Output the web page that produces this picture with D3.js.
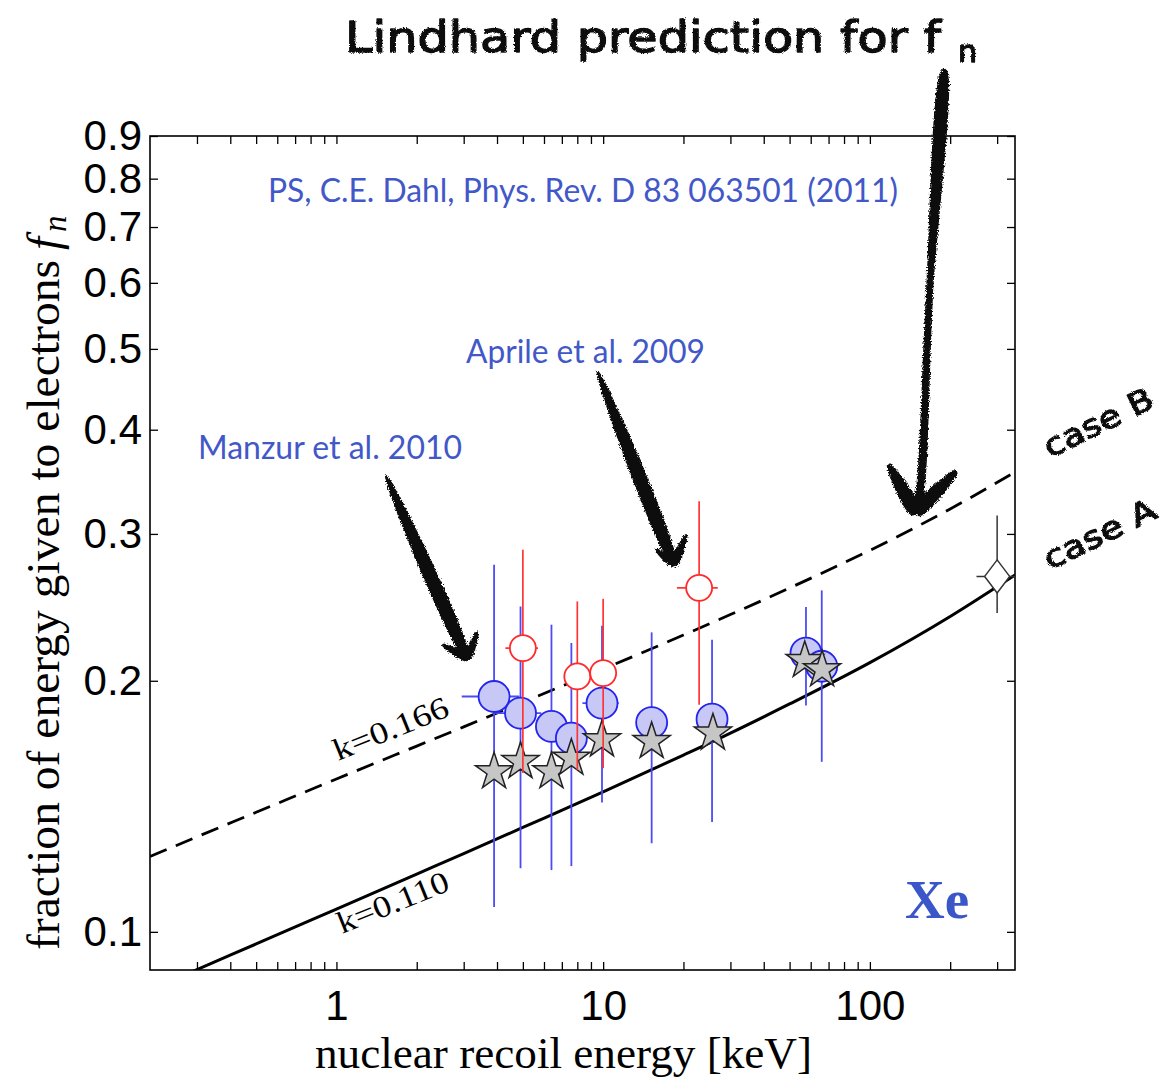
<!DOCTYPE html>
<html>
<head>
<meta charset="utf-8">
<script src="https://cdn.jsdelivr.net/npm/d3@7"></script>
<style>
  html, body { margin: 0; padding: 0; background: #ffffff; }
  svg { display: block; }
</style>
</head>
<body>
<svg id="chart" width="1162" height="1078"></svg>
<script>
// Lindhard model curves for xenon, sampled at these recoil energies (keV)
const energyGrid   = [0.2, 0.3, 0.5, 1, 2, 3, 5, 10, 20, 30, 50, 100, 200, 350];
const lindhardK110 = [0.0851, 0.0901, 0.0967, 0.1065, 0.1173, 0.1241, 0.1334, 0.1472, 0.1629, 0.1731, 0.1876, 0.2103, 0.2389, 0.2679];
const lindhardK166 = [0.1231, 0.1300, 0.1391, 0.1525, 0.1670, 0.1761, 0.1885, 0.2066, 0.2269, 0.2401, 0.2584, 0.2867, 0.3214, 0.3558];

// Manzur et al. 2010
const manzurEnergy    = [3.9, 4.9, 6.4, 7.6, 9.9, 15.2, 25.6, 57.6, 66.0];
const manzurFraction  = [0.1915, 0.1829, 0.1763, 0.1707, 0.1880, 0.1782, 0.1799, 0.2159, 0.2082];
const manzurLow       = [0.1071, 0.1192, 0.1186, 0.1199, 0.1429, 0.1277, 0.1354, 0.1868, 0.1599];
const manzurHigh      = [0.2756, 0.2455, 0.2335, 0.2220, 0.2328, 0.2286, 0.2240, 0.2452, 0.2567];
const manzurEnergyErr = [0.95, 0.96, 0, 0, 1.54, 0, 0, 0, 0];

// Aprile et al. 2009
const aprileEnergy    = [5.0, 8.0, 10.0, 22.9];
const aprileFraction  = [0.2189, 0.2024, 0.2043, 0.2585];
const aprileLow       = [0.1550, 0.1564, 0.1571, 0.1872];
const aprileHigh      = [0.2872, 0.2490, 0.2508, 0.3283];
const aprileEnergyErr = [0.7, 0, 0, 4.0];

// Sorensen & Dahl 2011 values
const dahlEnergy   = [3.9, 4.9, 6.4, 7.6, 9.9, 15.2, 25.8, 57.0, 66.2];
const dahlFraction = [0.1556, 0.1600, 0.1556, 0.1615, 0.1699, 0.1691, 0.1731, 0.2115, 0.2062];

// high-energy point
const highEnergy     = [300];
const highFraction   = [0.2668];
const highLow        = [0.2412];
const highHigh       = [0.3156];
const highEnergyLow  = [251];
const highEnergyHigh = [360];

// axes
const xTickValues   = [0.3, 0.4, 0.5, 0.6, 0.7, 0.8, 0.9, 1, 2, 3, 4, 5, 6, 7, 8, 9, 10, 20, 30, 40, 50, 60, 70, 80, 90, 100, 200, 300];
const xLabeledTicks = [1, 10, 100];
const yTickValues   = [0.1, 0.2, 0.3, 0.4, 0.5, 0.6, 0.7, 0.8, 0.9];

// hand-drawn arrows, in (keV, fraction) coordinates
const lindhardArrowShaft = [[190, 1.08], [167, 0.573], [155, 0.342], [148.7, 0.318]];
const lindhardArrowWings = [[117.4, 0.3635], [211, 0.3567]];
const manzurArrowShaft   = [[1.53, 0.3526], [3.10, 0.2126]];
const manzurArrowWings   = [[2.50, 0.2210], [3.38, 0.2290]];
const aprileArrowShaft   = [[9.52, 0.470], [18.5, 0.2756]];
const aprileArrowWings   = [[15.8, 0.2873], [20.5, 0.2995]];

// ---------------------------------------------------------------
const frame = { left: 150, right: 1015, top: 136, bottom: 970 };
const x = d3.scaleLog().domain([0.2, 350]).range([frame.left, frame.right]);
const y = d3.scaleLog().domain([0.09, 0.9]).range([frame.bottom, frame.top]);
const P = d => [x(d[0]), y(d[1])];

const sansFont  = "'Liberation Sans', Arial, Helvetica, sans-serif";
const serifFont = "'Liberation Serif', 'Times New Roman', serif";
const handFont  = "'DejaVu Sans', 'Noto Sans', sans-serif";
const noteFont  = "Lato, 'Open Sans', sans-serif";
const noteBlue  = "#4258c8";

const svg = d3.select("#chart");
const defs = svg.append("defs");

defs.append("clipPath").attr("id", "plot-area").append("rect")
  .attr("x", frame.left).attr("y", frame.top)
  .attr("width", frame.right - frame.left).attr("height", frame.bottom - frame.top);

// marker-pen roughness for the hand-written notes
function roughFilter(id, scale, freq, seed) {
  const f = defs.append("filter").attr("id", id)
    .attr("filterUnits", "userSpaceOnUse")
    .attr("x", 0).attr("y", 0).attr("width", 1162).attr("height", 1078);
  f.append("feTurbulence").attr("type", "fractalNoise")
    .attr("baseFrequency", freq).attr("numOctaves", 2).attr("seed", seed).attr("result", "noise");
  f.append("feDisplacementMap").attr("in", "SourceGraphic").attr("in2", "noise")
    .attr("scale", scale).attr("xChannelSelector", "R").attr("yChannelSelector", "G");
}
roughFilter("sketch", 3, 0.9, 4);
roughFilter("sketch-strong", 5, 0.7, 9);

// ---------------- axes -----------------
function styleAxis(g) {
  g.select(".domain").remove();
  g.selectAll(".tick line").attr("stroke", "#000").attr("stroke-width", 1.3);
  g.selectAll(".tick text").attr("font-family", sansFont).attr("font-size", 42).attr("fill", "#000");
}

svg.append("g").attr("transform", `translate(0,${frame.bottom})`)
  .call(d3.axisBottom(x).tickValues(xTickValues).tickSize(-8).tickSizeOuter(0).tickPadding(20)
    .tickFormat(d => xLabeledTicks.includes(d) ? d3.format("d")(d) : ""))
  .call(styleAxis);

svg.append("g").attr("transform", `translate(0,${frame.top})`)
  .call(d3.axisTop(x).tickValues(xTickValues).tickSize(-8).tickSizeOuter(0).tickFormat(""))
  .call(styleAxis);

svg.append("g").attr("transform", `translate(${frame.left},0)`)
  .call(d3.axisLeft(y).tickValues(yTickValues).tickSize(-8).tickSizeOuter(0).tickPadding(8)
    .tickFormat(d3.format(".1f")))
  .call(styleAxis);

svg.append("g").attr("transform", `translate(${frame.right},0)`)
  .call(d3.axisRight(y).tickValues(yTickValues).tickSize(-8).tickSizeOuter(0).tickFormat(""))
  .call(styleAxis);

svg.append("rect")
  .attr("x", frame.left).attr("y", frame.top)
  .attr("width", frame.right - frame.left).attr("height", frame.bottom - frame.top)
  .attr("fill", "none").attr("stroke", "#000").attr("stroke-width", 1.6);

// axis titles
svg.append("text")
  .attr("x", (frame.left + frame.right) / 2 - 19).attr("y", 1068)
  .attr("text-anchor", "middle")
  .attr("font-family", serifFont).attr("font-size", 45)
  .attr("textLength", 497).attr("lengthAdjust", "spacingAndGlyphs")
  .text("nuclear recoil energy [keV]");

svg.append("text")
  .attr("transform", "translate(59,950) rotate(-90)")
  .attr("font-family", serifFont).attr("font-size", 47)
  .attr("textLength", 690).attr("lengthAdjust", "spacingAndGlyphs")
  .text("fraction of energy given to electrons");
svg.append("text")
  .attr("transform", "translate(59,250) rotate(-90)")
  .attr("font-family", serifFont).attr("font-size", 47).attr("font-style", "italic")
  .text("f");
svg.append("text")
  .attr("transform", "translate(66,232) rotate(-90)")
  .attr("font-family", serifFont).attr("font-size", 33).attr("font-style", "italic")
  .text("n");

// ---------------- plot contents -----------------
const plot = svg.append("g").attr("clip-path", "url(#plot-area)");

const curve = d3.line().x(d => x(d[0])).y(d => y(d[1])).curve(d3.curveMonotoneX);

plot.append("path").datum(d3.zip(energyGrid, lindhardK166))
  .attr("d", curve).attr("fill", "none")
  .attr("stroke", "#000").attr("stroke-width", 2.8).attr("stroke-dasharray", "18,10");

plot.append("path").datum(d3.zip(energyGrid, lindhardK110))
  .attr("d", curve).attr("fill", "none")
  .attr("stroke", "#000").attr("stroke-width", 3);

const manzur = manzurEnergy.map((e, i) => ({
  e, f: manzurFraction[i], lo: manzurLow[i], hi: manzurHigh[i], de: manzurEnergyErr[i]
}));
const aprile = aprileEnergy.map((e, i) => ({
  e, f: aprileFraction[i], lo: aprileLow[i], hi: aprileHigh[i], de: aprileEnergyErr[i]
}));
const dahl = dahlEnergy.map((e, i) => ({ e, f: dahlFraction[i] }));
const high = highEnergy.map((e, i) => ({
  e, f: highFraction[i], lo: highLow[i], hi: highHigh[i], elo: highEnergyLow[i], ehi: highEnergyHigh[i]
}));

function errorBars(layer, data, color, width) {
  layer.selectAll(null).data(data).join("line")
    .attr("x1", d => x(d.e)).attr("x2", d => x(d.e))
    .attr("y1", d => y(d.lo)).attr("y2", d => y(d.hi))
    .attr("stroke", color).attr("stroke-width", width);
  layer.selectAll(null).data(data.filter(d => d.de > 0)).join("line")
    .attr("x1", d => x(d.e - d.de)).attr("x2", d => x(d.e + d.de))
    .attr("y1", d => y(d.f)).attr("y2", d => y(d.f))
    .attr("stroke", color).attr("stroke-width", width);
}

// Manzur: blue filled circles
const gM = plot.append("g");
errorBars(gM, manzur, "#4b4bf7", 1.8);
gM.selectAll("circle").data(manzur).join("circle")
  .attr("cx", d => x(d.e)).attr("cy", d => y(d.f)).attr("r", 15.5)
  .attr("fill", "#c8c8f6").attr("stroke", "#2424ee").attr("stroke-width", 1.8);

// stars
const star = d3.symbol().type(d3.symbolStar).size(430);
plot.append("g").selectAll("path").data(dahl).join("path")
  .attr("transform", d => `translate(${x(d.e)},${y(d.f)})`)
  .attr("d", star)
  .attr("fill", "#c6c6c6").attr("stroke", "#222").attr("stroke-width", 1.5)
  .attr("stroke-linejoin", "miter");

// Aprile: red open circles
const gA = plot.append("g");
errorBars(gA, aprile, "#ff3434", 1.7);
gA.selectAll("circle").data(aprile).join("circle")
  .attr("cx", d => x(d.e)).attr("cy", d => y(d.f)).attr("r", 13)
  .attr("fill", "#ffffff").attr("stroke", "#ff2a2a").attr("stroke-width", 1.8);

// high-energy diamond
const gH = plot.append("g");
gH.selectAll(null).data(high).join("line")
  .attr("x1", d => x(d.e)).attr("x2", d => x(d.e))
  .attr("y1", d => y(d.lo)).attr("y2", d => y(d.hi))
  .attr("stroke", "#333").attr("stroke-width", 1.5);
gH.selectAll(null).data(high).join("line")
  .attr("x1", d => x(d.elo)).attr("x2", d => x(d.ehi))
  .attr("y1", d => y(d.f)).attr("y2", d => y(d.f))
  .attr("stroke", "#333").attr("stroke-width", 1.5);
gH.selectAll("path").data(high).join("path")
  .attr("transform", d => `translate(${x(d.e)},${y(d.f)})`)
  .attr("d", () => {
    const p = d3.path();
    p.moveTo(0, -16.5); p.lineTo(12.5, 0); p.lineTo(0, 16.5); p.lineTo(-12.5, 0); p.closePath();
    return p.toString();
  })
  .attr("fill", "#fff").attr("stroke", "#333").attr("stroke-width", 1.5);

// ---------------- line labels -----------------
svg.append("text")
  .attr("transform", "translate(338,761) rotate(-22)")
  .attr("font-family", serifFont).attr("font-size", 31)
  .attr("textLength", 122).attr("lengthAdjust", "spacingAndGlyphs")
  .text("k=0.166");
svg.append("text")
  .attr("transform", "translate(342,934) rotate(-22)")
  .attr("font-family", serifFont).attr("font-size", 31)
  .attr("textLength", 118).attr("lengthAdjust", "spacingAndGlyphs")
  .text("k=0.110");

svg.append("text")
  .attr("x", 905).attr("y", 918)
  .attr("font-family", serifFont).attr("font-size", 55).attr("font-weight", "bold")
  .attr("fill", "#3a56c8")
  .text("Xe");

// ---------------- references -----------------
function note(txt, x0, base, len) {
  svg.append("text")
    .attr("x", x0).attr("y", base)
    .attr("font-family", noteFont).attr("font-size", 32).attr("font-weight", 400)
    .attr("fill", noteBlue)
    .attr("textLength", len).attr("lengthAdjust", "spacingAndGlyphs")
    .text(txt);
}
note("PS, C.E. Dahl, Phys. Rev. D 83 063501 (2011)", 268, 202, 630);
note("Aprile et al. 2009", 466, 363, 239);
note("Manzur et al. 2010", 198, 459, 264);

// ---------------- hand-written annotations -----------------
const hand = svg.append("g").attr("filter", "url(#sketch)")
  .attr("fill", "#111").attr("stroke", "#111").attr("stroke-width", 1.3)
  .attr("stroke-linejoin", "round");
hand.append("text")
  .attr("x", 345).attr("y", 52)
  .attr("font-family", handFont).attr("font-size", 42)
  .attr("textLength", 596).attr("lengthAdjust", "spacingAndGlyphs")
  .text("Lindhard prediction for f");
hand.append("text")
  .attr("x", 958).attr("y", 62)
  .attr("font-family", handFont).attr("font-size", 30)
  .text("n");
hand.append("text")
  .attr("transform", "translate(1050,458) rotate(-26)")
  .attr("font-family", handFont).attr("font-size", 31)
  .attr("textLength", 118).attr("lengthAdjust", "spacingAndGlyphs")
  .text("case B");
hand.append("text")
  .attr("transform", "translate(1050,570) rotate(-26)")
  .attr("font-family", handFont).attr("font-size", 31)
  .attr("textLength", 121).attr("lengthAdjust", "spacingAndGlyphs")
  .text("case A");

// tapered stroke along a polyline, as a filled outline
function taper(pts, w0, w1) {
  const seg = [0];
  for (let i = 1; i < pts.length; i++) {
    seg.push(seg[i - 1] + Math.hypot(pts[i][0] - pts[i - 1][0], pts[i][1] - pts[i - 1][1]));
  }
  const total = seg[seg.length - 1];
  const left = [], right = [];
  pts.forEach((p, i) => {
    const a = pts[Math.max(0, i - 1)], b = pts[Math.min(pts.length - 1, i + 1)];
    const dx = b[0] - a[0], dy = b[1] - a[1], n = Math.hypot(dx, dy) || 1;
    const nx = -dy / n, ny = dx / n;
    const w = (w0 + (w1 - w0) * seg[i] / total) / 2;
    left.push([p[0] + nx * w, p[1] + ny * w]);
    right.push([p[0] - nx * w, p[1] - ny * w]);
  });
  const outline = left.concat(right.reverse());
  return d3.line().curve(d3.curveCatmullRomClosed)(outline);
}

function arrow(shaft, wings, wTop, wBottom, wWing) {
  const pts = shaft.map(P);
  const tip = pts[pts.length - 1];
  const g = svg.append("g").attr("filter", "url(#sketch-strong)").attr("fill", "#111");
  g.append("path").attr("d", taper(pts, wTop, wBottom));
  wings.map(P).forEach(w => {
    g.append("path").attr("d", taper([tip, w], wWing, wWing * 0.35));
  });
}
arrow(lindhardArrowShaft, lindhardArrowWings, 5, 9, 10);
arrow(manzurArrowShaft, manzurArrowWings, 1.5, 5, 6);
arrow(aprileArrowShaft, aprileArrowWings, 1.5, 5, 6);
</script>
</body>
</html>
